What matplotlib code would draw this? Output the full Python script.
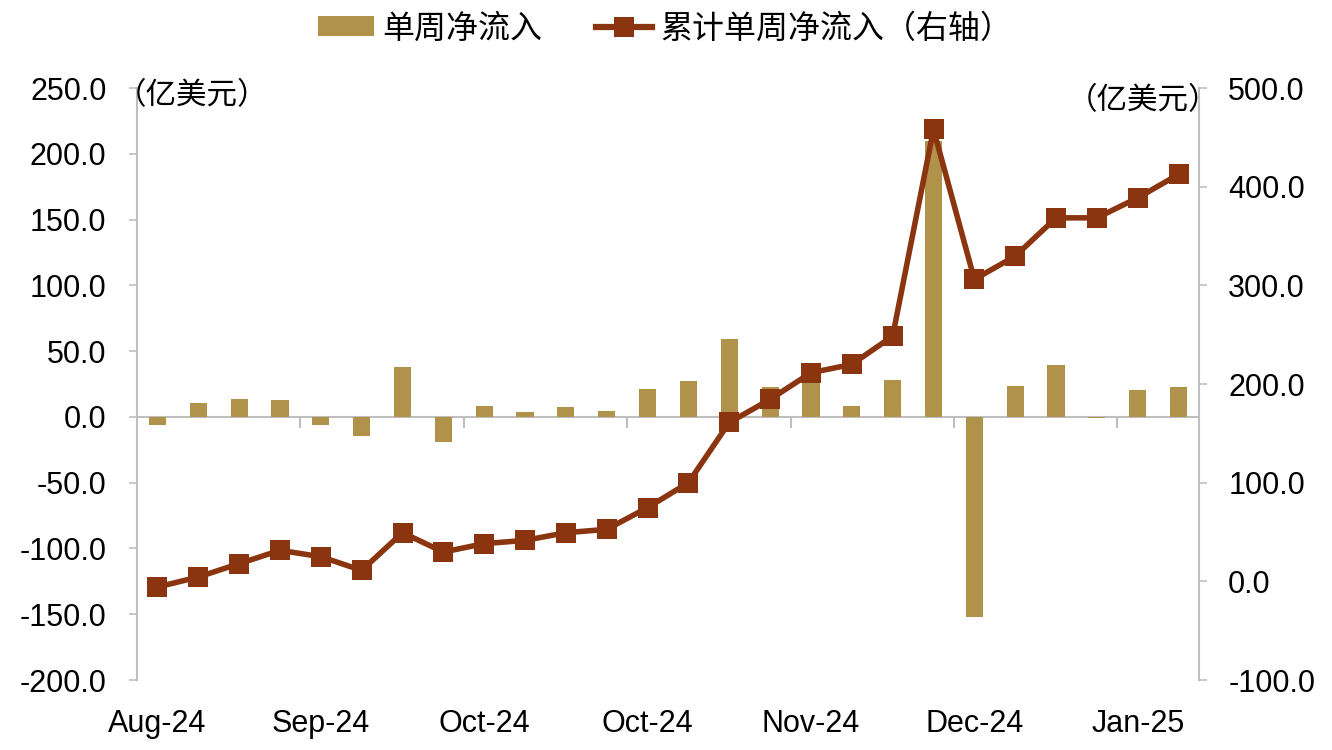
import matplotlib
matplotlib.use("Agg")
import matplotlib.pyplot as plt
from matplotlib.patches import Patch
from matplotlib.lines import Line2D
import numpy as np

plt.rcParams['font.family'] = ['Liberation Sans', 'Noto Sans CJK SC', 'DejaVu Sans']

# ---- data ----
weekly_flow = [-6.0, 10.6, 13.7, 12.7, -6.3, -14.7, 37.7, -19.3, 8.1, 3.5,
               7.6, 4.3, 21.5, 27.2, 59.3, 22.8, 28.0, 8.1, 27.9, 209.5,
               -152.0, 23.8, 39.5, -1.0, 20.8, 23.0]
cumulative_flow = [-5.8, 4.4, 17.9, 31.4, 25.0, 11.1, 49.3, 29.7, 38.2, 41.5,
                   49.3, 52.7, 74.7, 100.0, 161.0, 184.4, 211.4, 219.9, 248.5, 458.0,
                   306.0, 329.6, 368.4, 368.4, 388.7, 412.4]
x_label_pos = [0, 4, 8, 12, 16, 20, 24]
x_labels = ['Aug-24', 'Sep-24', 'Oct-24', 'Oct-24', 'Nov-24', 'Dec-24', 'Jan-25']
left_ticks = [-200, -150, -100, -50, 0, 50, 100, 150, 200, 250]
right_ticks = [-100, 0, 100, 200, 300, 400, 500]
bar_label = '单周净流入'
line_label = '累计单周净流入（右轴）'
unit_label = '（亿美元）'

BAR_C = '#B0924A'
LINE_C = '#8B3510'
GRID_C = '#BFBFBF'
FS = 22

fig = plt.figure(figsize=(13.32, 7.5), dpi=100)
ax = fig.add_axes([137/1332, 1-680/750, (1199-137)/1332, (680-88)/750])
ax2 = ax.twinx()

x = np.arange(len(weekly_flow))
ax.bar(x, weekly_flow, width=0.42, color=BAR_C, zorder=2)
ax2.plot(x, cumulative_flow, color=LINE_C, lw=4.0, marker='s', ms=13.8,
         markeredgewidth=0, zorder=3)

ax.set_xlim(-0.5, len(weekly_flow) - 0.5)
ax.set_ylim(-200, 250)
ax2.set_ylim(-100, 500)
ax.set_yticks(left_ticks)
ax.set_yticklabels([f'{v:.1f}' for v in left_ticks])
ax2.set_yticks(right_ticks)
ax2.set_yticklabels([f'{v:.1f}' for v in right_ticks])

ax.set_xticks(x_label_pos)
ax.set_xticklabels(x_labels)
ax.tick_params(axis='x', length=0, pad=21, labelsize=FS)
ax.tick_params(axis='y', length=6, width=1.2, color=GRID_C, pad=16, labelsize=FS, direction='out')
ax2.tick_params(axis='y', length=6, width=1.2, color=GRID_C, pad=15, labelsize=FS, direction='out')

for a in (ax, ax2):
    a.spines['top'].set_visible(False)
    a.spines['bottom'].set_visible(False)
    a.spines['left'].set_color(GRID_C)
    a.spines['right'].set_color(GRID_C)
    a.spines['left'].set_linewidth(1.5)
    a.spines['right'].set_linewidth(1.5)
ax2.spines['left'].set_visible(False)
ax.spines['right'].set_visible(False)

# zero axis with boundary tick marks
zero_frac = (0 - (-200)) / (250 - (-200))
sec = ax.secondary_xaxis(zero_frac)
sec.set_xticks([b + 3.5 for b in x_label_pos[:-1]])
sec.set_xticklabels([])
sec.tick_params(axis='x', length=8, width=1.5, color=GRID_C, direction='out')
sec.spines['bottom'].set_color(GRID_C)
sec.spines['bottom'].set_linewidth(1.5)
sec.set_zorder(1)

# unit labels
fig.text(192/1332, 1-96/750, unit_label, fontsize=22, va='center', ha='center')
fig.text(1143/1332, 1-101/750, unit_label, fontsize=22, va='center', ha='center')

handles = [Patch(facecolor=BAR_C, edgecolor='none'),
           Line2D([0], [0], color=LINE_C, lw=4.5, marker='s', ms=14, markeredgewidth=0)]
fig.legend(handles, [bar_label, line_label], loc='center', bbox_to_anchor=(665/1332, 1-29/750),
           ncol=2, frameon=False, fontsize=23, handlelength=1.75, handletextpad=0.25,
           columnspacing=1.7, handleheight=0.6)

fig.savefig('out.png', dpi=100)
